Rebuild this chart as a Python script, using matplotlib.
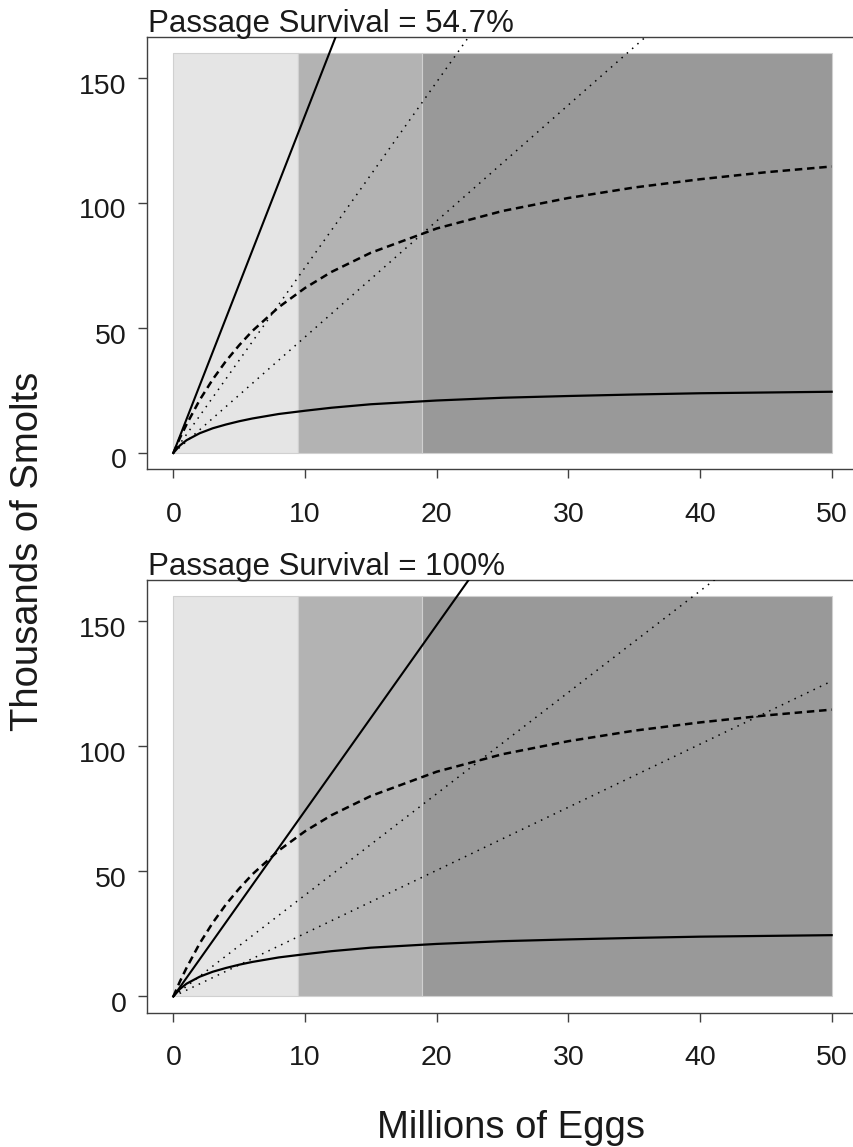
import matplotlib
matplotlib.use("Agg")
import matplotlib.pyplot as plt
import matplotlib.transforms as mtransforms
from matplotlib.patches import Rectangle

plt.rcParams['font.family'] = ['Liberation Sans', 'DejaVu Sans']

# Egg abundance (millions) at which the curved recruitment relationships are tabulated
eggs = [0, 0.5, 1, 2, 3, 4, 5, 6, 8, 10, 12, 15, 20, 25, 30, 35, 40, 45, 50]
# Low-capacity curve (thousands of smolts)
low_capacity = [0, 3.0, 5.1, 7.9, 9.9, 11.4, 12.7, 13.8, 15.6, 16.9, 18.1, 19.5,
                21.0, 22.1, 22.8, 23.4, 23.9, 24.2, 24.5]
# High-capacity curve (thousands of smolts)
high_capacity = [0, 6.0, 11.4, 21.2, 29.5, 36.8, 43.1, 48.8, 58.3, 66.0, 72.4, 80.1,
                 89.8, 96.8, 102.0, 106.2, 109.5, 112.3, 114.6]

# Straight (density-independent) relationships, end points at 0 and 50 million eggs
line_eggs = [0, 50]
steep_547 = [0, 675]
dotted_hi_547 = [0, 371]
dotted_lo_547 = [0, 232]
steep_100 = [0, 371]
dotted_hi_100 = [0, 202.5]
dotted_lo_100 = [0, 126]

panel_titles = ["Passage Survival = 54.7%", "Passage Survival = 100%"]

# Shaded egg-abundance zones
zone_edges = [0, 9.5, 18.9, 50]
zone_colors = ['#e5e5e5', '#b3b3b3', '#999999']
zone_top = 160

x_ticks = [0, 10, 20, 30, 40, 50]
y_ticks = [0, 50, 100, 150]

W, H = 854, 1147
fig = plt.figure(figsize=(W / 100, H / 100), dpi=100)

axis_color = '#404040'
text_color = '#1a1a1a'


def make_axes(top_px, bottom_px):
    left = 147 / W
    right = 858 / W
    return fig.add_axes([left, 1 - bottom_px / H, right - left, (bottom_px - top_px) / H])


ax_top = make_axes(37, 469)
ax_bot = make_axes(580, 1012.5)

panels = [
    (ax_top, steep_547, dotted_hi_547, dotted_lo_547, panel_titles[0], 32),
    (ax_bot, steep_100, dotted_hi_100, dotted_lo_100, panel_titles[1], 575),
]

dot_style = (0, (1, 3.6))
dash_style = (0, (3.0, 1.9))

for ax, steep, dot_hi, dot_lo, title, title_base in panels:
    ax.set_xlim(-2, 52)
    ax.set_ylim(-6.4, 166.4)

    for i, col in enumerate(zone_colors):
        ax.add_patch(Rectangle((zone_edges[i], 0), zone_edges[i + 1] - zone_edges[i], zone_top,
                               facecolor=col, edgecolor='#d0d0d0', linewidth=0.8, zorder=1))

    ax.plot(line_eggs, steep, color='black', lw=1.5, zorder=3)
    ax.plot(line_eggs, dot_hi, color='black', lw=1.1, linestyle=dot_style, zorder=3)
    ax.plot(line_eggs, dot_lo, color='black', lw=1.1, linestyle=dot_style, zorder=3)
    ax.plot(eggs, high_capacity, color='black', lw=1.8, linestyle=dash_style, zorder=3)
    ax.plot(eggs, low_capacity, color='black', lw=1.6, zorder=3)

    for sp in ax.spines.values():
        sp.set_color(axis_color)
        sp.set_linewidth(1.0)

    ax.set_xticks(x_ticks)
    ax.set_yticks(y_ticks)
    ax.tick_params(axis='both', direction='out', length=6.5, width=1.0, color=axis_color,
                   labelsize=20.5, labelcolor=text_color)
    ax.tick_params(axis='x', pad=17)
    ax.tick_params(axis='y', pad=8)
    shift = mtransforms.ScaledTranslation(0, -5.5 / 100, fig.dpi_scale_trans)
    for lab in ax.get_yticklabels():
        lab.set_transform(lab.get_transform() + shift)

    fig.text(148 / W, 1 - title_base / H, title, ha='left', va='baseline',
             fontsize=22.5, color=text_color)

fig.text(28.5 / W, 1 - 551 / H, "Thousands of Smolts", rotation=90, ha='center',
         va='center', fontsize=27.5, color=text_color)
fig.text(511 / W, 1 - 1138 / H, "Millions of Eggs", ha='center', va='baseline',
         fontsize=27.5, color=text_color)

fig.savefig("out.png", dpi=100)
